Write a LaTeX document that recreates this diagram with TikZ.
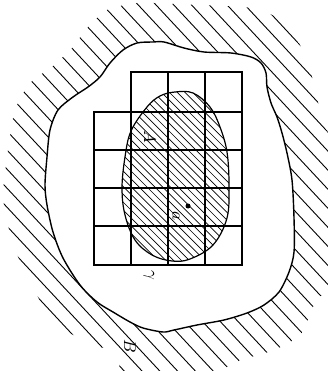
\documentclass[tikz,border=0pt]{standalone}
\begin{document}
\begin{tikzpicture}[x=1pt,y=-1pt,
  outline/.style={line width=1.4pt, line join=round},
  hatchline/.style={line width=0.9pt},
  fine/.style={line width=0.65pt},
  gridline/.style={line width=1.3pt, line cap=rect},
  lab/.style={scale=1.7, rotate=-90, inner sep=0pt}]
\useasboundingbox (0,0) rectangle (328,371);
% outer hatching
\begin{scope}
\clip plot[smooth cycle, tension=0.4] coordinates {(3,195) (8,150) (15,110) (30,83) (53,66) (72,48) (88,27) (107,10) (137,3) (177,4) (252,8) (280,20) (300,45) (313,80) (322,120) (332,150) (332,285) (317,298) (301,334) (274,350) (241,360) (207,374) (125,374) (118,352) (93,345) (53,322) (32,285) (15,250) (8,225)};
\foreach \k in {-24,...,24}
  \draw[hatchline] ({164+\k*9.5-341},{185-\k*8.87-365.5}) -- ++(682,731);
\end{scope}
% outer curve
\path[fill=white] plot[smooth cycle, tension=0.5] coordinates {(45,185) (47,157) (50,130) (58,110) (73,97) (88,87) (100,77) (110,63) (123,50) (137,43) (153,42) (164,42) (184,48) (204,52) (231,53) (251,57) (261,63) (266,73) (267,87) (271,103) (277,117) (282,133) (287,153) (292,180) (294,218) (294,252) (289,272) (279,292) (264,305) (247,313) (224,320) (197,325) (174,330) (163,332) (143,328) (130,322) (113,312) (97,302) (80,285) (63,258) (53,232) (47,205)};
\draw[outline] plot[smooth cycle, tension=0.5] coordinates {(45,185) (47,157) (50,130) (58,110) (73,97) (88,87) (100,77) (110,63) (123,50) (137,43) (153,42) (164,42) (184,48) (204,52) (231,53) (251,57) (261,63) (266,73) (267,87) (271,103) (277,117) (282,133) (287,153) (292,180) (294,218) (294,252) (289,272) (279,292) (264,305) (247,313) (224,320) (197,325) (174,330) (163,332) (143,328) (130,322) (113,312) (97,302) (80,285) (63,258) (53,232) (47,205)};
% egg
\begin{scope}
\clip plot[smooth cycle, tension=0.6] coordinates {(175,92) (193,93) (210,107) (220,127) (227,152) (229,185) (227,218) (213,245) (190,259) (172,261) (152,255) (135,240) (125,215) (122,188) (125,157) (131,131) (147,107) (160,96)};
\foreach \k in {-22,...,22}
  \draw[fine] ({175+\k*3.9-200},{176-\k*3.9-200}) -- ++(400,400);
\end{scope}
\draw[outline, line width=1.2pt] plot[smooth cycle, tension=0.6] coordinates {(175,92) (193,93) (210,107) (220,127) (227,152) (229,185) (227,218) (213,245) (190,259) (172,261) (152,255) (135,240) (125,215) (122,188) (125,157) (131,131) (147,107) (160,96)};
% grid
\draw[gridline] (131,72) -- (242,72) -- (242,265) -- (94,265) -- (94,112) -- (242,112);
\foreach \y in {150,188,226} \draw[gridline] (94,\y) -- (242,\y);
\foreach \x in {131,168,205} \draw[gridline] (\x,72) -- (\x,265);
% labels
\node[lab] (A) at (150,137) {$A$};
\node[lab] (a) at (176,216) {$a$};
\node[circle, fill, inner sep=0pt, minimum size=5pt] (pt) at (188,206) {};
\node[lab] (g) at (149,275) {$\gamma$};
\node[lab] (B) at (130,346) {$B$};
\end{tikzpicture}
\end{document}
